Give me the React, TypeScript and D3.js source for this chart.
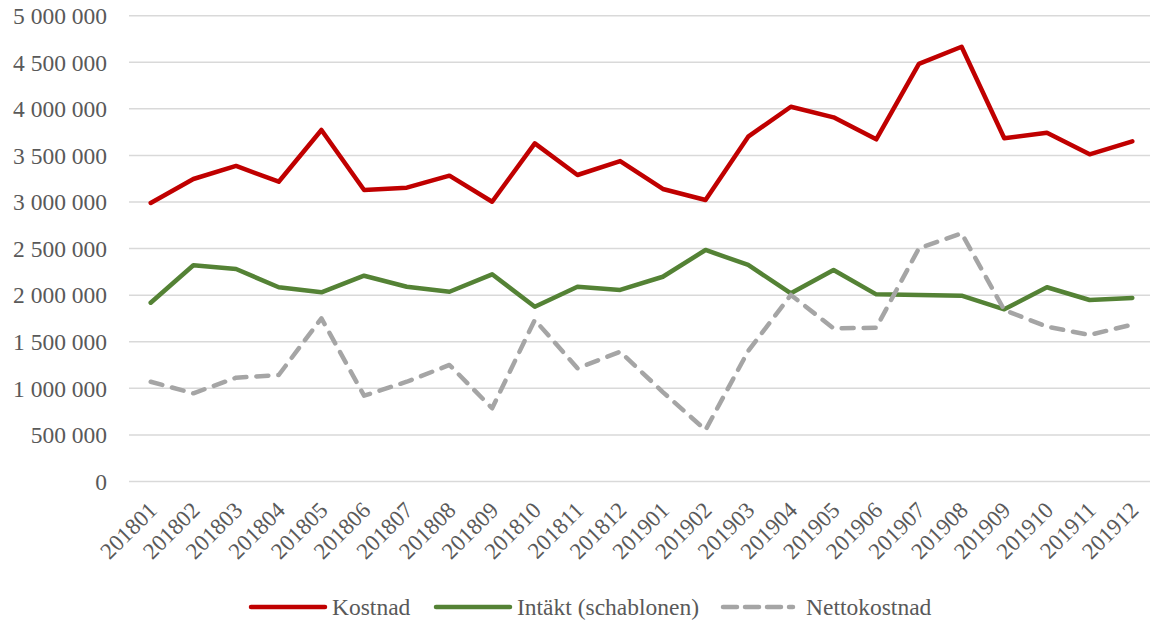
import React from "react";
import * as d3 from "d3";

const months = [
  "201801", "201802", "201803", "201804", "201805", "201806",
  "201807", "201808", "201809", "201810", "201811", "201812",
  "201901", "201902", "201903", "201904", "201905", "201906",
  "201907", "201908", "201909", "201910", "201911", "201912",
];

const kostnad = [
  2990000, 3247000, 3387000, 3218000, 3773000, 3129000,
  3154000, 3283000, 3003000, 3630000, 3290000, 3440000,
  3140000, 3022000, 3701000, 4023000, 3909000, 3673000,
  4482000, 4667000, 3684000, 3744000, 3512000, 3652000,
];

const intakt = [
  1919000, 2321000, 2281000, 2085000, 2031000, 2209000,
  2091000, 2037000, 2224000, 1876000, 2091000, 2056000,
  2198000, 2485000, 2324000, 2020000, 2270000, 2009000,
  2002000, 1995000, 1848000, 2085000, 1948000, 1970000,
];

const netto = [
  1071000, 947000, 1114000, 1143000, 1752000, 921000,
  1071000, 1251000, 786000, 1734000, 1215000, 1393000,
  960000, 553000, 1400000, 2002000, 1644000, 1651000,
  2503000, 2664000, 1841000, 1662000, 1573000, 1685000,
];

const yTicks = [0, 500000, 1000000, 1500000, 2000000, 2500000, 3000000, 3500000, 4000000, 4500000, 5000000];

const series = [
  { name: "Kostnad", values: kostnad, color: "#C00000", dash: null },
  { name: "Intäkt (schablonen)", values: intakt, color: "#548235", dash: null },
  { name: "Nettokostnad", values: netto, color: "#A5A5A5", dash: "12 10" },
];

const width = 1150;
const height = 621;
const font = "'Liberation Serif', 'Times New Roman', serif";
const textColor = "#595959";

export default function App() {
  const x = d3.scalePoint<string>().domain(months).range([150.7, 1132.3]);
  const y = d3.scaleLinear().domain([0, 5000000]).range([481.5, 15.7]);
  const fmt = (v: number) => d3.format(",")(v).replace(/,/g, " ");

  const line = d3
    .line<number>()
    .x((_, i) => x(months[i]) as number)
    .y((d) => y(d));

  const legendItems = [
    { lx: 251, tx: 332, len: 74 },
    { lx: 436, tx: 517, len: 74 },
    { lx: 723, tx: 806, len: 70 },
  ];

  return (
    <svg
      width={width}
      height={height}
      style={{ position: "absolute", left: 0, top: 0, background: "#fff" }}
      fontFamily={font}
    >
      {/* grid + y labels */}
      {yTicks.map((t) => (
        <g key={t}>
          <line x1={129} x2={1150} y1={y(t)} y2={y(t)} stroke="#D9D9D9" strokeWidth={1.5} />
          <text
            x={107}
            y={y(t)}
            dy="0.35em"
            textAnchor="end"
            fontSize={23.5}
            fill={textColor}
          >
            {fmt(t)}
          </text>
        </g>
      ))}

      {/* x labels */}
      {months.map((m) => (
        <text
          key={m}
          transform={`translate(${(x(m) as number) + 2},${506}) rotate(-45)`}
          dy="0.35em"
          textAnchor="end"
          fontSize={23}
          fill={textColor}
        >
          {m}
        </text>
      ))}

      {/* lines */}
      {series.map((s) => (
        <path
          key={s.name}
          d={line(s.values) || ""}
          fill="none"
          stroke={s.color}
          strokeWidth={4.5}
          strokeLinejoin="round"
          strokeLinecap="round"
          strokeDasharray={s.dash || undefined}
        />
      ))}

      {/* legend */}
      {series.map((s, i) => (
        <g key={s.name}>
          <line
            x1={legendItems[i].lx}
            x2={legendItems[i].lx + legendItems[i].len}
            y1={607}
            y2={607}
            stroke={s.color}
            strokeWidth={4.5}
            strokeLinecap="round"
            strokeDasharray={s.dash ? "14 8" : undefined}
          />
          <text
            x={legendItems[i].tx}
            y={607}
            dy="0.35em"
            fontSize={23.5}
            fill={textColor}
          >
            {s.name}
          </text>
        </g>
      ))}
    </svg>
  );
}
